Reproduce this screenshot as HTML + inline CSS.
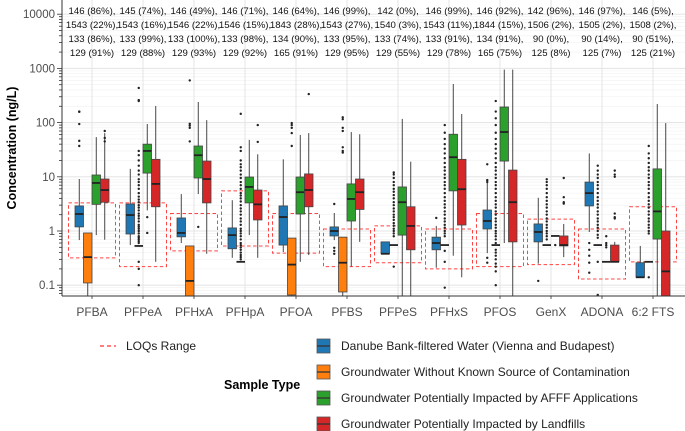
<!DOCTYPE html>
<html><head><meta charset="utf-8"><style>
body{margin:0;background:#fff}
svg{display:block;font-family:"Liberation Sans",sans-serif}
</style></head><body>
<svg id="chart" width="685" height="431" viewBox="0 0 685 431">
<defs><clipPath id="pc"><rect x="62" y="0" width="623" height="296"/></clipPath></defs>
<rect x="62" y="0" width="623" height="296" fill="#fff"/>
<g id="grid"></g>
<g id="loq" clip-path="url(#pc)"></g>
<g id="boxes" clip-path="url(#pc)"></g>
<g id="annot"></g>
<g id="axes"></g>
<text transform="translate(16,148) rotate(-90)" text-anchor="middle" font-size="12.5" font-weight="bold">Concentration (ng/L)</text>
<g>
<line x1="100" y1="346" x2="116" y2="346" stroke="#f33" stroke-width="1.3" stroke-dasharray="4,3"/>
<text x="126" y="350" font-size="12" fill="#222">LOQs Range</text>
</g>
<text x="224" y="389" font-size="12.5" font-weight="bold">Sample Type</text>
<g id="legend"></g>
</svg>
<script>
const categories=["PFBA","PFPeA","PFHxA","PFHpA","PFOA","PFBS","PFPeS","PFHxS","PFOS","GenX","ADONA","6:2 FTS"];
const groupNames=["Danube Bank-filtered Water (Vienna and Budapest)","Groundwater Without Known Source of Contamination","Groundwater Potentially Impacted by AFFF Applications","Groundwater Potentially Impacted by Landfills"];
const groupColors=["#1f78b4","#ff7f0e","#2ca02c","#d62728"];
// [lo, q1, median, q3, hi]
const blueStats=[[0.68,1.19,2.06,2.9,9.1],[0.55,0.88,1.97,3.15,14],[0.6,0.78,0.92,1.74,4.8],[0.32,0.47,0.84,1.14,3.7],[0.41,0.55,1.81,2.9,21],[0.68,0.81,1.0,1.19,2.15],[0.38,0.38,0.38,0.63,0.63],[0.21,0.45,0.6,0.77,1.24],[0.39,1.09,1.53,2.44,9.1],[0.25,0.63,0.96,1.35,4.1],[0.96,2.9,5.0,8.0,27],[0.14,0.14,0.14,0.26,0.53]];
const orangeStats=[[0.05,0.11,0.33,0.92,0.92],[0.53,0.53,0.53,0.53,0.53],[0.05,0.05,0.12,0.53,0.53],[0.27,0.27,0.27,0.27,0.27],[0.05,0.066,0.24,0.74,0.74],[0.05,0.075,0.26,0.77,0.77],[0.55,0.55,0.55,0.55,0.55],[0.55,0.55,0.55,0.55,0.55],[0.55,0.55,0.55,0.55,0.55],[0.55,0.55,0.55,0.55,0.55],[0.55,0.55,0.55,0.55,0.55],[0.27,0.27,0.27,0.27,0.27]];
const greenStats=[[0.84,3.1,7.7,10.8,54],[2.4,11.7,30,40,94],[4.8,9.5,25,37,240],[0.84,3.3,6.5,9.9,48],[0.27,2.06,5.2,9.9,59],[0.22,1.53,3.9,7.4,67],[0.05,0.84,3.4,6.5,117],[0.35,5.5,23,61,515],[0.6,19.5,67,194,950],[0.81,0.81,0.81,0.81,0.81],[0.27,0.27,0.27,0.27,0.27],[0.05,0.71,2.3,14,220]];
const redStats=[[0.69,3.4,5.7,9.1,64],[0.27,2.8,7.4,21,203],[0.38,3.3,9.1,19.5,111],[0.32,1.6,3.1,5.7,26],[0.36,2.8,5.7,11.3,64],[0.63,2.5,5.2,9.1,61],[0.05,0.45,1.24,2.8,19],[0.14,1.29,5.9,21,144],[0.05,0.63,3.4,13.3,950],[0.33,0.53,0.55,0.81,1.35],[0.27,0.27,0.27,0.55,0.63],[0.05,0.05,0.18,1.0,98]];
const blueOutliers=[[158,160,94,46,37],[],[],[],[],[3.15,0.49,0.43,0.38],[],[1.74],[17,8.7,8,0.32,0.26],[0.12],[0.6,0.45,0.35,0.26,0.17],[]];
const orangeOutliers=[
[],
[0.27,0.2,0.1,0.6,0.65,0.7,0.75,0.8,0.9,1,1.1,1.2,1.3,1.5,1.7,1.9,2.1,2.4,2.7,3,3.4,3.8,4.3,5,6,7,8,9,11,13,16,20,25,30,250,260,436],
[600,95,88,80,45],
[0.3,0.33,0.36,0.4,0.45,0.5,0.55,0.6,0.7,0.8,0.9,1,1.1,1.3,1.5,1.7,2,2.3,2.6,3,3.5,4,4.5,5,6,7,8,9.5,11,13,15,17,20,30,35,145],
[98,90,80,64,37],
[125,115,80,70,35,30,28],
[0.22,0.8,0.9,1,1.1,1.25,1.4,1.6,1.8,2,2.3,2.6,3,3.4,4,4.6,5.3,6,7,8,9.5,11,12],
[0.09,0.27,0.43,0.8,0.9,1,1.15,1.3,1.5,1.7,2,2.3,2.7,3.1,3.6,4.2,5,6,7,8,9.5,11,13,15,18,22,27,33,40,50,65,90],
[0.1,0.18,0.22,0.25,0.3,0.35,0.4,0.45,0.6,0.7,0.8,0.9,1,1.15,1.3,1.5,1.7,2,2.3,2.7,3.1,3.6,4.2,5,6,7,8,9.5,11,13,15,18,22,27,33,40,50,65,90,120,160,250],
[0.7,0.8,0.9,1,1.15,1.3,1.5,1.7,2,2.3,2.7,3.1,3.6,4.2,5,6,7,8,9],
[0.066,0.27,0.75,0.85,1,1.15,1.3,1.5,1.7,2,2.3,2.7,3.1,3.6,4.2,5,6,7,8,9.5,11,13,16],
[0.14,0.9,1,1.15,1.3,1.5,1.7,2,2.3,2.7,3.1,3.6,4.2,5,6,7,8,9.5,11,13,15,18,22,27,37]];
const greenOutliers=[[],[1.8,0.92],[1.19],[],[],[],[],[],[],[0.55],[0.8,0.6,0.55,0.5],[]];
const redOutliers=[[70,52,45],[],[],[90,44],[336],[],[],[],[],[9.5,4.2,3.4,3.2],[13,11,10,2.1,1.8,1.7],[]];
const loqLow=[0.32,0.22,0.43,0.53,0.39,0.22,0.26,0.2,0.22,0.24,0.13,0.27];
const loqHigh=[3.3,3.3,2.1,5.5,2.1,1.09,1.24,1.09,2.1,1.66,1.09,2.8];
const annotRow1=["146 (86%),","145 (74%),","146 (49%),","146 (71%),","146 (64%),","146 (99%),","142 (0%),","146 (99%),","146 (92%),","142 (96%),","146 (97%),","146 (5%),"];
const annotRow2=["1543 (22%),","1543 (16%),","1546 (22%),","1546 (15%),","1843 (28%),","1543 (27%),","1540 (3%),","1543 (11%),","1844 (15%),","1506 (2%),","1505 (2%),","1508 (2%),"];
const annotRow3=["133 (86%),","133 (99%),","133 (100%),","133 (98%),","134 (90%),","133 (95%),","133 (74%),","133 (91%),","134 (91%),","90 (0%),","90 (14%),","90 (51%),"];
const annotRow4=["129 (91%)","129 (88%)","129 (93%)","129 (92%)","165 (91%)","129 (95%)","129 (55%)","129 (78%)","165 (75%)","125 (8%)","125 (7%)","125 (21%)"];
const yTicks=[10000,1000,100,10,1,0.1];
const yTickLabels=["10000","1000","100","10","1","0.1"];

const NS="http://www.w3.org/2000/svg";
function y(v){return 231-54.2*Math.log10(v);}
function x(i){return 92+51*i;}
const offsets=[-12.75,-4.25,4.25,12.75];
const BW=8.5;
function mk(tag,attrs,parent){const e=document.createElementNS(NS,tag);for(const k in attrs)e.setAttribute(k,attrs[k]);parent.appendChild(e);return e;}
const grid=document.getElementById('grid');
for(let d=-2;d<=4;d++){
  for(let m=1;m<10;m++){
    const v=m*Math.pow(10,d);const yy=y(v);
    if(yy<0||yy>296)continue;
    const ln=mk('line',{x1:62,x2:685,y1:yy,y2:yy,stroke:m===1?'#e6e6e6':'#f0f0f0','stroke-width':m===1?1.1:0.6},grid);
    
    
  }
}
categories.forEach((c,i)=>{
  const ln=mk('line',{x1:x(i),x2:x(i),y1:0,y2:296,stroke:'#e6e6e6','stroke-width':1.1},grid);
  
  
});
const loq=document.getElementById('loq');
categories.forEach((c,i)=>{
  const r=mk('rect',{x:x(i)-23.5,y:y(loqHigh[i]),width:47,height:y(loqLow[i])-y(loqHigh[i]),fill:'none',stroke:'#f44','stroke-width':1,'stroke-dasharray':'3.5,2.5'},loq);
  
  
});
const stats=[blueStats,orangeStats,greenStats,redStats];
const outs=[blueOutliers,orangeOutliers,greenOutliers,redOutliers];
const boxes=document.getElementById('boxes');
categories.forEach((c,i)=>{
  for(let g=0;g<4;g++){
    const s=stats[g][i];const cx=x(i)+offsets[g];
    const grp=mk('g',{},boxes);
    
    
    mk('line',{x1:cx,x2:cx,y1:y(s[3]),y2:y(s[4]),stroke:'#333','stroke-width':0.9},grp);
    mk('line',{x1:cx,x2:cx,y1:y(s[1]),y2:y(s[0]),stroke:'#333','stroke-width':0.9},grp);
    const h=y(s[1])-y(s[3]);
    if(h>0.5)mk('rect',{x:cx-BW/2,y:y(s[3]),width:BW,height:h,fill:groupColors[g],stroke:'#444','stroke-width':0.8},grp);
    mk('line',{x1:cx-BW/2,x2:cx+BW/2,y1:y(s[2]),y2:y(s[2]),stroke:'#222','stroke-width':1.8},grp);
    outs[g][i].forEach(v=>{
      const p=mk('circle',{cx:cx,cy:y(v),r:1.2,fill:'#222'},grp);
      
      
    });
  }
});
const annot=document.getElementById('annot');
[annotRow1,annotRow2,annotRow3,annotRow4].forEach((row,r)=>{
  row.forEach((t,i)=>{
    const tx=mk('text',{x:x(i),y:[14,28,42,56][r],'text-anchor':'middle','font-size':9.6,fill:'#111'},annot);
    tx.textContent=t;
    
    
  });
});
const axes=document.getElementById('axes');
mk('line',{x1:62,x2:62,y1:0,y2:296,stroke:'#333','stroke-width':1},axes);
mk('line',{x1:62,x2:685,y1:296,y2:296,stroke:'#333','stroke-width':1},axes);
for(let d=-2;d<=4;d++){for(let m=1;m<10;m++){const yy=y(m*Math.pow(10,d));if(yy<0||yy>296)continue;
  mk('line',{x1:m===1?57:59,x2:62,y1:yy,y2:yy,stroke:'#333','stroke-width':0.8},axes);}}
yTicks.forEach((v,k)=>{
  const t=mk('text',{x:55,y:y(v)+4,'text-anchor':'end','font-size':11.5,fill:'#4d4d4d'},axes);
  t.textContent=yTickLabels[k];
  
  
});
categories.forEach((c,i)=>{
  mk('line',{x1:x(i),x2:x(i),y1:296,y2:299,stroke:'#333','stroke-width':0.8},axes);
  const t=mk('text',{x:x(i),y:316,'text-anchor':'middle','font-size':12,fill:'#4d4d4d'},axes);
  t.textContent=c;
  
  
});
const legend=document.getElementById('legend');
groupNames.forEach((n,g)=>{
  const cy=346+26*g;
  const it=mk('g',{},legend);
  
  
  mk('rect',{x:317,y:cy-7,width:13,height:14,fill:groupColors[g],stroke:'#555','stroke-width':0.8},it);
  mk('line',{x1:317,x2:330,y1:cy,y2:cy,stroke:'#333','stroke-width':1.3},it);
  const t=mk('text',{x:341,y:cy+4,'font-size':12,fill:'#222'},it);
  t.textContent=n;
});
</script>
</body></html>
